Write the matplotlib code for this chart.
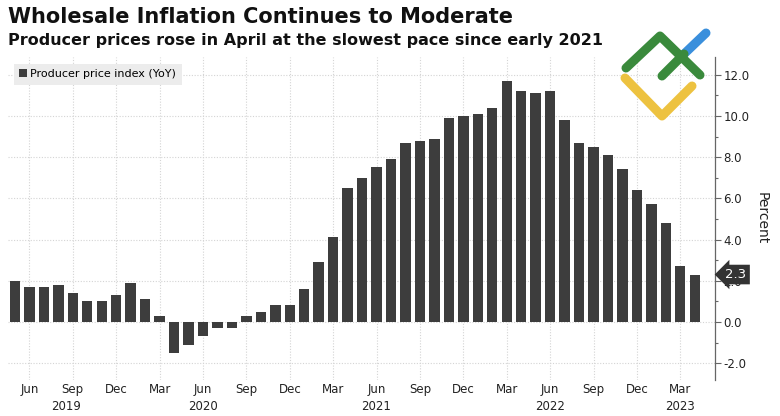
import numpy as np
import pandas as pd
import matplotlib
matplotlib.use("Agg")
import matplotlib.pyplot as plt
from matplotlib.lines import Line2D
from matplotlib.transforms import blended_transform_factory

# Producer price index, YoY %, May 2019 .. Apr 2023
months = pd.period_range("2019-05", "2023-04", freq="M")
ppi_yoy = [
    2.0, 1.7, 1.7, 1.8, 1.4, 1.0, 1.0, 1.3,                       # 2019
    1.9, 1.1, 0.3, -1.5, -1.1, -0.7, -0.3, -0.3, 0.3, 0.5, 0.8, 0.8,  # 2020
    1.6, 2.9, 4.1, 6.5, 7.0, 7.5, 7.9, 8.7, 8.8, 8.9, 9.9, 10.0,    # 2021
    10.1, 10.4, 11.7, 11.2, 11.1, 11.2, 9.8, 8.7, 8.5, 8.1, 7.4, 6.4,  # 2022
    5.7, 4.8, 2.7, 2.3,                                           # 2023
]
tick_months = ["Jun", "Sep", "Dec", "Mar"]
year_labels = ["2019", "2020", "2021", "2022", "2023"]
year_label_pos = [3.5, 13, 25, 37, 46]   # month index under which the year sits
y_ticks = [-2.0, 0.0, 2.0, 4.0, 6.0, 8.0, 10.0, 12.0]

W, H = 780, 416
fig = plt.figure(figsize=(W / 100, H / 100), dpi=100)
ax = fig.add_axes([8 / W, 1 - 380 / H, (715 - 8) / W, (380 - 57) / H])

x = np.arange(len(months))
bars = ax.bar(x, ppi_yoy, width=0.72, color="#3d3d3d", zorder=3,
              label="Producer price index (YoY)")

ax.set_xlim(-0.48, 48.4)
ax.set_ylim(-2.82, 12.86)

# x ticks: quarterly month names
labels = [m.strftime("%b") for m in months]
xt = [i for i, l in enumerate(labels) if l in tick_months]
ax.set_xticks(xt)
ax.set_xticklabels([labels[i] for i in xt], fontsize=8.5, color="#222222")
ax.tick_params(axis="x", length=0, pad=2)

trans = blended_transform_factory(ax.transData, ax.transAxes)
for lab, pos in zip(year_labels, year_label_pos):
    ax.text(pos, -0.062, lab, transform=trans, ha="center", va="top",
            fontsize=8.5, color="#222222")

# y axis on the right
ax.yaxis.tick_right()
ax.yaxis.set_label_position("right")
ax.set_yticks(y_ticks)
ax.set_yticks(np.arange(-2, 13, 1.0), minor=True)
ax.set_yticklabels([f"{v:.1f}" for v in y_ticks], fontsize=8.5, color="#222222")
ax.tick_params(axis="y", which="major", length=4, width=0.8, color="#666666", pad=2)
ax.tick_params(axis="y", which="minor", length=2.5, width=0.8, color="#666666")
ax.set_ylabel("Percent", fontsize=10, rotation=270, labelpad=14, color="#222222")

for s in ["top", "left", "bottom"]:
    ax.spines[s].set_visible(False)
ax.spines["right"].set_color("#666666")
ax.spines["right"].set_linewidth(0.9)

ax.grid(True, which="major", color="#d4d4d4", linestyle=(0, (1, 1.5)), linewidth=0.8, zorder=0)

# last value tag (sits over the 2.0 label, as in the original)
tag_trans = blended_transform_factory(ax.transAxes, ax.transData)
ax.annotate(f"{ppi_yoy[-1]:.1f}", xy=(1.0, ppi_yoy[-1]), xycoords=tag_trans,
            xytext=(7.5, 0), textcoords="offset points", ha="left", va="center",
            fontsize=9.5, color="white", annotation_clip=False, zorder=5,
            bbox=dict(boxstyle="larrow,pad=0.25", fc="#333333", ec="none"))

# legend
fig.legend(handles=[bars], loc="upper left", bbox_to_anchor=(8 / W, 1 - 58 / H),
           fontsize=8, frameon=True, facecolor="#ececec", edgecolor="none",
           fancybox=False, handlelength=0.7, handleheight=0.7, handletextpad=0.3,
           borderpad=0.5, framealpha=1)

# titles
fig.text(8 / W, 1 - 7 / H, "Wholesale Inflation Continues to Moderate",
         fontsize=15, fontweight="bold", ha="left", va="top", color="#111111")
fig.text(8 / W, 1 - 33 / H, "Producer prices rose in April at the slowest pace since early 2021",
         fontsize=11.5, fontweight="bold", ha="left", va="top", color="#111111")

# logo watermark
def stroke(pts, color):
    xs = [p[0] / W for p in pts]
    ys = [1 - p[1] / H for p in pts]
    fig.add_artist(Line2D(xs, ys, transform=fig.transFigure, color=color,
                          linewidth=6.5, solid_capstyle="round",
                          solid_joinstyle="round", zorder=10))

stroke([(684, 54), (706, 33)], "#3a8fdc")
stroke([(626, 68), (660, 36), (700, 75)], "#3a8a3c")
stroke([(662, 76), (684, 54)], "#3a8a3c")
stroke([(625, 78), (662, 116), (692, 86)], "#edc240")

fig.savefig("out.png", dpi=100)
